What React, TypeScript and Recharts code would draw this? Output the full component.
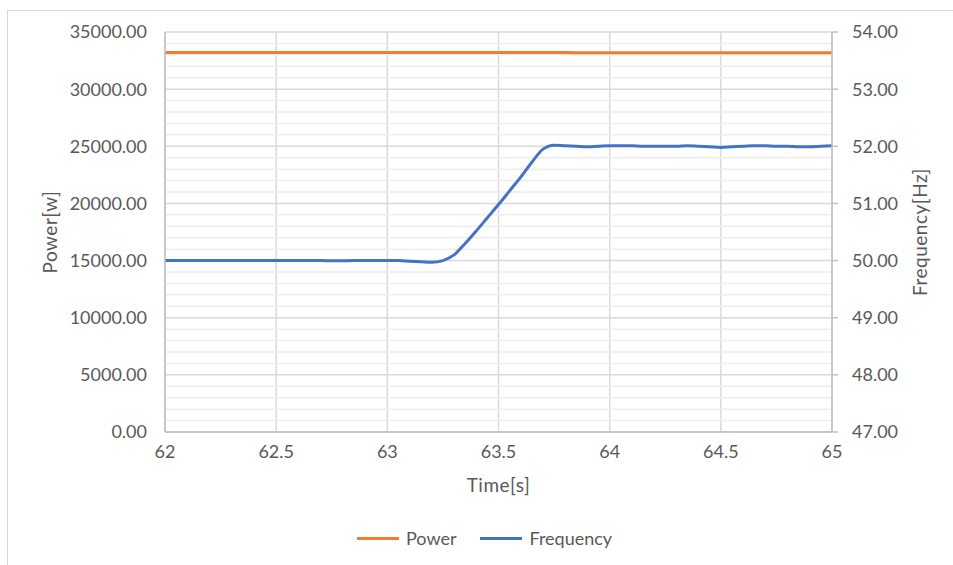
import React from "react";
import {
  LineChart,
  Line,
  XAxis,
  YAxis,
  CartesianGrid,
  Legend,
  ReferenceLine,
} from "recharts";

const times = [
  62.0, 62.05, 62.1, 62.15, 62.2, 62.25, 62.3, 62.35, 62.4, 62.45, 62.5, 62.55,
  62.6, 62.65, 62.7, 62.75, 62.8, 62.85, 62.9, 62.95, 63.0, 63.05, 63.1, 63.15,
  63.2, 63.25, 63.3, 63.35, 63.4, 63.45, 63.5, 63.55, 63.6, 63.65, 63.7, 63.75,
  63.8, 63.85, 63.9, 63.95, 64.0, 64.05, 64.1, 64.15, 64.2, 64.25, 64.3, 64.35,
  64.4, 64.45, 64.5, 64.55, 64.6, 64.65, 64.7, 64.75, 64.8, 64.85, 64.9, 64.95,
  65.0,
];

const power = [
  33200, 33200, 33200, 33200, 33200, 33200, 33200, 33200, 33200, 33200, 33200,
  33200, 33200, 33200, 33200, 33200, 33200, 33200, 33200, 33200, 33200, 33200,
  33200, 33200, 33200, 33200, 33200, 33200, 33200, 33200, 33200, 33200, 33200,
  33200, 33200, 33200, 33200, 33190, 33180, 33180, 33180, 33180, 33180, 33180,
  33180, 33180, 33180, 33180, 33180, 33180, 33180, 33180, 33180, 33180, 33180,
  33180, 33180, 33180, 33180, 33180, 33180,
];

const frequency = [
  50.0, 50.0, 50.0, 50.0, 50.0, 50.0, 50.0, 50.0, 50.0, 50.0, 50.0, 50.0, 50.0,
  50.0, 50.0, 49.995, 49.995, 50.0, 50.0, 50.0, 50.0, 50.0, 49.99, 49.98, 49.97,
  50.0, 50.1, 50.3, 50.52, 50.75, 50.98, 51.22, 51.46, 51.72, 51.95, 52.02,
  52.01, 52.0, 51.99, 52.0, 52.01, 52.01, 52.01, 52.0, 52.0, 52.0, 52.0, 52.01,
  52.0, 51.99, 51.98, 51.99, 52.0, 52.01, 52.01, 52.0, 52.0, 51.99, 51.99, 52.0,
  52.01,
];

const timeTicks = [62, 62.5, 63, 63.5, 64, 64.5, 65];
const powerTicks = [0, 5000, 10000, 15000, 20000, 25000, 30000, 35000];
const powerMinorTicks = [
  1000, 2000, 3000, 4000, 6000, 7000, 8000, 9000, 11000, 12000, 13000, 14000,
  16000, 17000, 18000, 19000, 21000, 22000, 23000, 24000, 26000, 27000, 28000,
  29000, 31000, 32000, 33000, 34000,
];
const freqTicks = [47, 48, 49, 50, 51, 52, 53, 54];
const legendOrder = ["Power", "Frequency"];

const data = times.map((t, i) => ({
  time: t,
  power: power[i],
  frequency: frequency[i],
}));

const FONT = "Lato, 'Open Sans', sans-serif";
const TEXT = "#595959";
const tickStyle = { fill: TEXT, fontSize: 18, fontFamily: FONT };
const titleStyle = { fill: TEXT, fontSize: 19, fontFamily: FONT, letterSpacing: 0.5 };

const LegendContent = ({ payload }: any) => {
  const items = [...(payload || [])].sort(
    (a: any, b: any) => legendOrder.indexOf(a.value) - legendOrder.indexOf(b.value)
  );
  return (
    <div
      style={{
        display: "flex",
        justifyContent: "flex-start",
        alignItems: "center",
        fontFamily: FONT,
        fontSize: 18,
        color: TEXT,
        paddingLeft: 357,
      }}
    >
      {items.map((p: any) => (
        <div
          key={p.value}
          style={{ display: "flex", alignItems: "center", marginRight: 24 }}
        >
          <span
            style={{
              display: "inline-block",
              width: 42,
              height: 3,
              background: p.color,
              marginRight: 7,
            }}
          />
          <span>{p.value}</span>
        </div>
      ))}
    </div>
  );
};

export default function App() {
  return (
    <div
      style={{
        position: "absolute",
        left: 0,
        top: 0,
        width: 953,
        height: 565,
        background: "#fff",
        overflow: "hidden",
      }}
    >
      <div
        style={{
          position: "absolute",
          left: 7,
          top: 10,
          right: 0,
          bottom: 0,
          borderLeft: "1px solid #d9d9d9",
          borderTop: "1px solid #d9d9d9",
        }}
      />
      <LineChart
        width={953}
        height={565}
        data={data}
        margin={{ top: 32, right: 11, bottom: 73, left: 5 }}
      >
        <CartesianGrid yAxisId="left" stroke="#d9d9d9" strokeWidth={1.5} />
        {powerMinorTicks.map((v) => (
          <ReferenceLine
            key={v}
            yAxisId="left"
            y={v}
            stroke="#ededed"
            strokeWidth={1.5}
          />
        ))}
        <XAxis
          dataKey="time"
          type="number"
          domain={[62, 65]}
          ticks={timeTicks}
          interval={0}
          height={60}
          axisLine={{ stroke: "#bfbfbf", strokeWidth: 1.5 }}
          tickLine={false}
          tickSize={6}
          tickMargin={7}
          tick={tickStyle}
          label={{
            value: "Time[s]",
            position: "insideBottom",
            offset: 0,
            style: titleStyle,
          }}
        />
        <YAxis
          yAxisId="left"
          orientation="left"
          domain={[0, 35000]}
          ticks={powerTicks}
          interval={0}
          width={160}
          axisLine={{ stroke: "#bfbfbf", strokeWidth: 1.5 }}
          tickLine={false}
          tickSize={6}
          tickMargin={12}
          tick={tickStyle}
          tickFormatter={(v: number) => v.toFixed(2)}
          label={{
            value: "Power[w]",
            angle: -90,
            position: "insideLeft",
            offset: 45,
            style: { ...titleStyle, textAnchor: "middle" },
          }}
        />
        <YAxis
          yAxisId="right"
          orientation="right"
          domain={[47, 54]}
          ticks={freqTicks}
          interval={0}
          width={110}
          axisLine={{ stroke: "#bfbfbf", strokeWidth: 1.5 }}
          tickLine={{ stroke: "#bfbfbf", strokeWidth: 1.5 }}
          tickSize={6}
          tickMargin={14}
          tick={tickStyle}
          tickFormatter={(v: number) => v.toFixed(2)}
          label={{
            value: "Frequency[Hz]",
            angle: -90,
            position: "insideRight",
            offset: 22,
            style: { ...titleStyle, textAnchor: "middle" },
          }}
        />
        <Legend
          verticalAlign="middle"
          align="center"
          content={<LegendContent />}
          wrapperStyle={{ top: 527, left: 0, width: 953 }}
        />
        <Line
          yAxisId="left"
          type="monotone"
          dataKey="power"
          name="Power"
          stroke="#ED7D31"
          strokeWidth={3}
          dot={false}
          isAnimationActive={false}
        />
        <Line
          yAxisId="right"
          type="monotone"
          dataKey="frequency"
          name="Frequency"
          stroke="#4472C4"
          strokeWidth={3}
          dot={false}
          isAnimationActive={false}
        />
      </LineChart>
    </div>
  );
}
